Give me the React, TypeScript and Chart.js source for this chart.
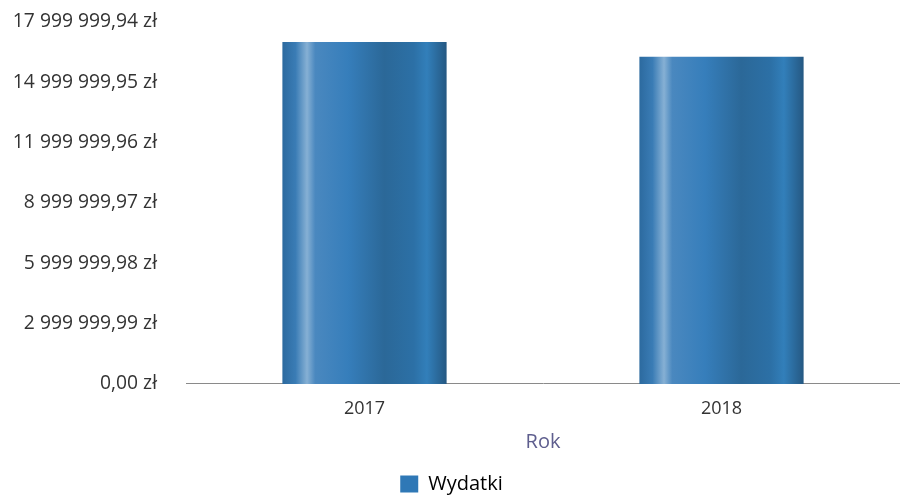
import React, { useEffect, useRef } from "react";
import { Chart, registerables } from "chart.js";

Chart.register(...registerables);

const categories = ["2017", "2018"];
const seriesName = "Wydatki";
const wydatki = [17000000, 16270000];
const yTickValues = [0, 2999999.99, 5999999.98, 8999999.97, 11999999.96, 14999999.95, 17999999.94];
const yTickLabels = [
  "0,00 zł",
  "2 999 999,99 zł",
  "5 999 999,98 zł",
  "8 999 999,97 zł",
  "11 999 999,96 zł",
  "14 999 999,95 zł",
  "17 999 999,94 zł",
];
const xTitle = "Rok";

const BAR_PCT = 0.92;
const CAT_PCT = 0.5;
const FONT = "'Open Sans', sans-serif";

function barGradient(chart: any, dataIndex: number) {
  const xs = chart.scales && chart.scales.x;
  const c = chart.ctx;
  if (!xs || !c) return "#2f78b6";
  const center = xs.getPixelForValue(dataIndex);
  const w = (xs.width / categories.length) * BAR_PCT * CAT_PCT;
  const left = center - w / 2;
  const g = c.createLinearGradient(left, 0, left + w, 0);
  g.addColorStop(0, "#2c6a9f");
  g.addColorStop(0.08, "#3a7cb5");
  g.addColorStop(0.15, "#86b0d4");
  g.addColorStop(0.2, "#4a88bf");
  g.addColorStop(0.4, "#367ebb");
  g.addColorStop(0.62, "#2b6898");
  g.addColorStop(0.8, "#2c70a6");
  g.addColorStop(0.88, "#327fba");
  g.addColorStop(1, "#255882");
  return g;
}

export default function App() {
  const ref = useRef<HTMLCanvasElement | null>(null);
  useEffect(() => {
    document.body.style.margin = "0";
    const canvas = ref.current!;
    const chart = new Chart(canvas, {
      type: "bar",
      data: {
        labels: categories,
        datasets: [
          {
            label: seriesName,
            data: wydatki,
            backgroundColor: (ctx: any) => barGradient(ctx.chart, ctx.dataIndex),
            borderWidth: 0,
            barPercentage: BAR_PCT,
            categoryPercentage: CAT_PCT,
          },
        ],
      },
      options: {
        animation: false,
        responsive: false,
        maintainAspectRatio: false,
        layout: { padding: { top: 0, right: -3, left: 0, bottom: -8 } },
        font: { family: FONT },
        scales: {
          x: {
            grid: { display: false, drawTicks: false },
            border: { display: true, color: "#8a8a8a", width: 1 },
            ticks: {
              color: "#333333",
              font: { family: FONT, size: 18, lineHeight: 0.84 },
              padding: 17,
            },
            title: {
              display: true,
              text: xTitle,
              color: "#5e5e8e",
              font: { family: FONT, size: 20 },
              padding: { top: -3, bottom: 17 },
            },
          },
          y: {
            min: 0,
            max: 17999999.94,
            afterBuildTicks: (axis: any) => {
              axis.ticks = yTickValues.map((v) => ({ value: v }));
            },
            afterFit: (axis: any) => {
              axis.width = 186;
              axis.paddingTop = 22;
            },
            grid: { display: false, drawTicks: false },
            border: { display: false },
            ticks: {
              color: "#333333",
              font: { family: FONT, size: 19.3 },
              padding: 29,
              callback: (_v: any, i: number) => yTickLabels[i],
            },
          },
        },
        plugins: {
          legend: {
            position: "bottom",
            labels: {
              color: "#333333",
              font: { family: FONT, size: 20 },
              boxWidth: 18,
              boxHeight: 17,
              padding: 3,
              generateLabels: () => [
                {
                  text: seriesName,
                  fillStyle: "#2f78b6",
                  strokeStyle: "#2f78b6",
                  lineWidth: 0,
                  hidden: false,
                  datasetIndex: 0,
                },
              ],
            },
          },
          tooltip: { enabled: false },
        },
      },
    });
    return () => chart.destroy();
  }, []);
  return <canvas ref={ref} width={900} height={496} style={{ display: "block" }} />;
}
